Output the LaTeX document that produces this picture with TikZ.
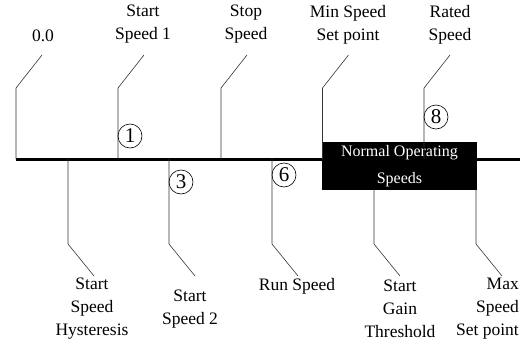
\documentclass[tikz,border=0pt]{standalone}
\usepackage{fontspec}
\setmainfont{Liberation Serif}
\begin{document}
\begin{tikzpicture}[x=1pt,y=-1pt,
  lbl/.style={font=\fontsize{17.5}{23}\selectfont, align=center, inner sep=0pt},
  leader/.style={draw=black!80, line width=0.6pt},
  num/.style={circle, draw, line width=0.6pt, minimum size=24pt, inner sep=0pt,
    font=\fontsize{21}{21}\selectfont},
  axisline/.style={line width=3pt},
  opbox/.style={fill=black, text=white, minimum width=155pt, minimum height=48pt,
    inner sep=0pt, align=center, font=\fontsize{16}{27}\selectfont}]
\useasboundingbox (0,0) rectangle (525,343);

% main speed axis
\coordinate (axL) at (16,159);
\coordinate (axR) at (520,159);
\draw[axisline] (axL) -- (axR);

% normal operating band
\node[opbox] (band) at (399.5,166) {Normal Operating\\Speeds};

% labels above the axis
\node[lbl] (zero)  at (43,36) {0.0};
\node[lbl] (ss1)   at (143,24.5) {Start\\Speed 1};
\node[lbl] (stop)  at (246,24.5) {Stop\\Speed};
\node[lbl] (minsp) at (348,24.5) {Min Speed\\Set point};
\node[lbl] (rated) at (450,24.5) {Rated\\Speed};

% labels below the axis
\node[lbl] (hyst)  at (92,309) {Start\\Speed\\Hysteresis};
\node[lbl] (ss2)   at (190,309) {Start\\Speed 2};
\node[lbl] (run)   at (297,286) {Run Speed};
\node[lbl] (gain)  at (400,309) {Start\\Gain\\Threshold};
\node[lbl, align=right, anchor=east] (maxsp) at (519,309) {Max\\Speed\\Set point};

% leader lines above
\foreach \n/\x in {zero/16, ss1/118, stop/221, minsp/322.5, rated/424}{
  \coordinate (\n-a) at (\x,159);
  \coordinate (\n-b) at (\x,88);
  \coordinate (\n-c) at (\x+26,55);
  \draw[leader] (\n-a) -- (\n-b) -- (\n-c);
}

% leader lines below
\foreach \n/\x/\y in {hyst/68/159, ss2/169/159, run/272/159, gain/374/190, maxsp/476/190}{
  \coordinate (\n-a) at (\x,\y);
  \coordinate (\n-b) at (\x,244);
  \coordinate (\n-c) at (\x+26,276);
  \draw[leader] (\n-a) -- (\n-b) -- (\n-c);
}

% circled step numbers
\node[num] (n1) at (130,136) {1};
\node[num] (n3) at (181,182) {3};
\node[num] (n6) at (284,175) {6};
\node[num] (n8) at (436,117) {8};
\end{tikzpicture}
\end{document}
